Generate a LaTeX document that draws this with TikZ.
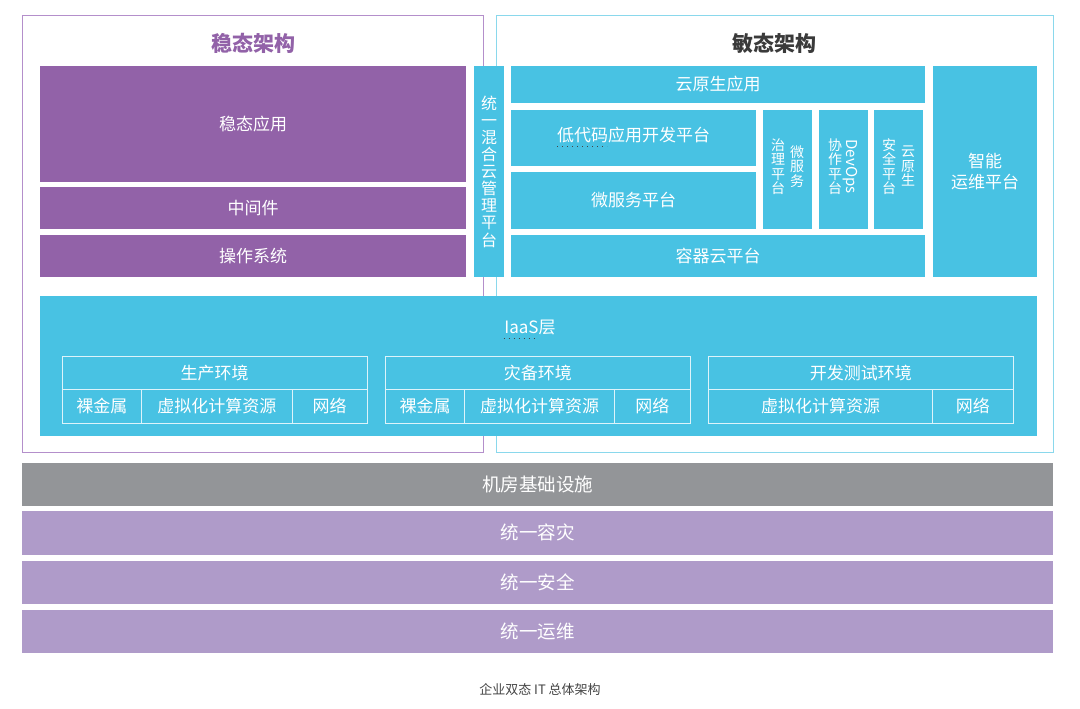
\documentclass[tikz,border=0pt]{standalone}
\usepackage{fontspec}
\setmainfont{Noto Sans CJK SC}
\usetikzlibrary{calc}
\definecolor{stablepurple}{HTML}{9262A8}
\definecolor{agilecyan}{HTML}{48C2E3}
\definecolor{framepurple}{HTML}{B48FCB}
\definecolor{framecyan}{HTML}{8AD8EC}
\definecolor{infragray}{HTML}{939598}
\definecolor{unifiedpurple}{HTML}{AF9BC9}
\definecolor{titlegray}{HTML}{3A3A3A}
\definecolor{captiongray}{HTML}{444444}
\definecolor{envline}{HTML}{DDF3FA}
\tikzset{
  boxsize/.style 2 args={minimum width=#1pt, minimum height=#2pt},
  block/.style={inner sep=0pt, outer sep=0pt, text=white, font=\fontsize{17}{20}\selectfont},
  stableblock/.style={block, fill=stablepurple},
  agileblock/.style={block, fill=agilecyan},
  infrablock/.style={block, fill=infragray, font=\fontsize{18.5}{22}\selectfont},
  baseblock/.style={block, fill=unifiedpurple, font=\fontsize{18.5}{22}\selectfont},
  archframe/.style={draw, line width=1pt, inner sep=0pt},
  envcell/.style={block, draw=envline, line width=1pt},
  vtext/.style={inner sep=0pt, text=white, align=center, font=\fontsize{14}{14.5}\selectfont},
  archtitle/.style={inner sep=0pt, font=\fontsize{21}{24}\selectfont\bfseries},
  spellmark/.style={dash pattern=on 1.3pt off 3.7pt, draw=captiongray, line width=1.3pt},
}
\begin{document}
\begin{tikzpicture}[x=1pt, y=-1pt]
\useasboundingbox[fill=white] (0,0) rectangle (1080,709);

% two architecture frames
\node[archframe, draw=framepurple, boxsize={461}{436}] (stableframe) at (252.5,234) {};
\node[archframe, draw=framecyan, boxsize={557}{436}] (agileframe) at (774.5,234) {};
\node[archtitle, text=stablepurple] (stabletitle) at (253,43) {稳态架构};
\node[archtitle, text=titlegray] (agiletitle) at (774.5,43) {敏态架构};

% stable side
\node[stableblock, boxsize={426}{116}] (stableapp) at (253,124) {稳态应用};
\node[stableblock, boxsize={426}{42}] (middleware) at (253,208) {中间件};
\node[stableblock, boxsize={426}{42}] (opsys) at (253,256) {操作系统};

% hybrid cloud bar
\node[agileblock, boxsize={30}{211}] (hybrid) at (489,171.5) {};
\node[vtext, font=\fontsize{16}{17.1}\selectfont] (hybridtext) at (hybrid.center) {统\\一\\混\\合\\云\\管\\理\\平\\台};

% agile side
\node[agileblock, boxsize={414}{37}] (cloudapp) at (718,84.5) {云原生应用};
\node[agileblock, boxsize={245}{56}] (lowcode) at (633.5,138) {};
\node[block] (lowcodetext) at ($(lowcode.center)+(0,-3)$) {低代码应用开发平台};
\node[agileblock, boxsize={245}{57}] (msplatform) at (633.5,200.5) {微服务平台};
\node[agileblock, boxsize={49}{119}] (msgov) at (787.5,169.5) {};
\node[agileblock, boxsize={49}{119}] (devops) at (843.5,169.5) {};
\node[agileblock, boxsize={49}{119}] (cloudsec) at (898.5,169.5) {};
\node[agileblock, boxsize={414}{42}] (container) at (718,256) {容器云平台};
\node[agileblock, boxsize={104}{211}] (aiops) at (985,171.5) {};
\node[vtext, font=\fontsize{17}{21}\selectfont] (aiopstext) at (aiops.center) {智能\\运维平台};

% vertical labels
\node[vtext] (msgovA) at ($(msgov.center)+(9.5,-3)$) {微\\服\\务};
\node[vtext] (msgovB) at ($(msgov.center)+(-9.5,-3)$) {治\\理\\平\\台};
\node[vtext, rotate=-90, font=\fontsize{15}{15}\selectfont] (devopsA) at ($(devops.center)+(6.5,-3)$) {DevOps};
\node[vtext] (devopsB) at ($(devops.center)+(-8.5,-3)$) {协\\作\\平\\台};
\node[vtext] (cloudsecA) at ($(cloudsec.center)+(9.5,-3)$) {云\\原\\生};
\node[vtext] (cloudsecB) at ($(cloudsec.center)+(-9.5,-3)$) {安\\全\\平\\台};
\draw[spellmark] (557,146.7) -- (607,146.7);

% IaaS layer
\node[agileblock, boxsize={997}{140}] (iaas) at (538.5,366) {};
\node[block] (iaaslabel) at (530,327.5) {IaaS层};
\draw[spellmark] (503.5,338.5) -- (538,338.5);

\node[envcell, boxsize={305}{33.5}] (prodenv) at (214.5,372.75) {生产环境};
\node[envcell, boxsize={79.5}{33.5}] (prodbm) at (101.75,406.25) {裸金属};
\node[envcell, boxsize={150.5}{33.5}] (prodvm) at (216.75,406.25) {虚拟化计算资源};
\node[envcell, boxsize={75}{33.5}] (prodnet) at (329.5,406.25) {网络};

\node[envcell, boxsize={304.5}{33.5}] (drenv) at (537.75,372.75) {灾备环境};
\node[envcell, boxsize={79}{33.5}] (drbm) at (425,406.25) {裸金属};
\node[envcell, boxsize={150}{33.5}] (drvm) at (539.5,406.25) {虚拟化计算资源};
\node[envcell, boxsize={75.5}{33.5}] (drnet) at (652.25,406.25) {网络};

\node[envcell, boxsize={304.5}{33.5}] (devenv) at (860.75,372.75) {开发测试环境};
\node[envcell, boxsize={224}{33.5}] (devvm) at (820.5,406.25) {虚拟化计算资源};
\node[envcell, boxsize={80.5}{33.5}] (devnet) at (972.75,406.25) {网络};

% shared base layers
\node[infrablock, boxsize={1031}{43}] (infra) at (537.5,484) {机房基础设施};
\node[baseblock, boxsize={1031}{43.5}] (unidr) at (537.5,532.75) {统一容灾};
\node[baseblock, boxsize={1031}{43.5}] (unisec) at (537.5,582.25) {统一安全};
\node[baseblock, boxsize={1031}{43.5}] (uniops) at (537.5,631.25) {统一运维};

\node[font=\fontsize{13}{15}\selectfont, text=captiongray] (caption) at (540,690) {企业双态 IT 总体架构};
\end{tikzpicture}
\end{document}
